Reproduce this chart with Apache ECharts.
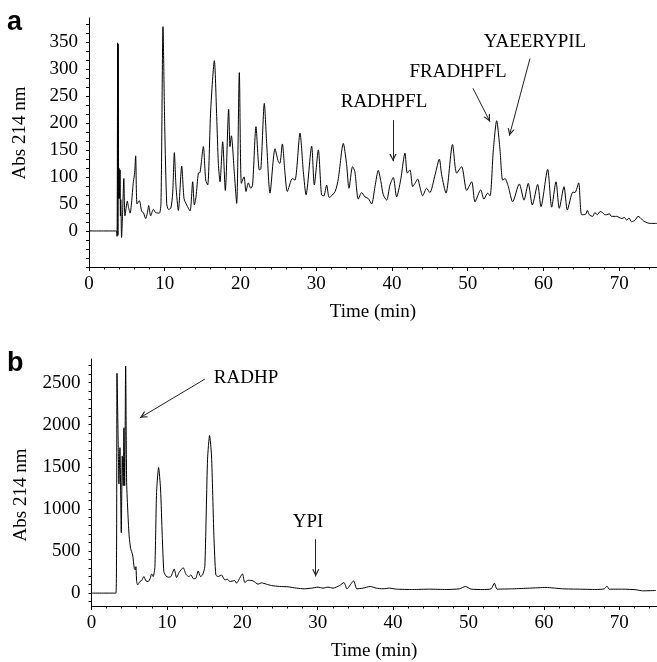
<!DOCTYPE html>
<html>
<head>
<meta charset="utf-8">
<script src="https://cdn.jsdelivr.net/npm/echarts@6/dist/echarts.min.js"></script>
<style>html,body{margin:0;padding:0;background:#fff}#c{width:657px;height:662px}</style>
</head>
<body>
<div id="c"></div>
<script>
// ---- Panel a: chromatogram (time min, Abs 214 nm) ----
const seriesA = [[0,0],[3.6,0],[3.7,-10],[3.78,348],[3.82,-8],[3.86,346],[3.92,60],[3.97,116],[4.05,60],[4.1,113],[4.15,28],[4.2,58],[4.3,-12],[4.45,40],[4.6,97],[4.75,28],[5.06,55],[5.2,45],[5.42,33],[5.86,91],[6.03,108],[6.16,139],[6.34,50],[6.65,56],[6.96,36],[7.18,34],[7.48,23],[7.7,33],[7.88,47],[8.14,28],[8.5,40],[8.8,34],[9.29,33],[9.51,54],[9.77,378],[10.0,193],[10.26,51],[10.48,40],[10.8,42],[11.05,70],[11.27,145],[11.49,82],[11.8,38],[12.24,120],[12.55,60],[12.9,48],[13.34,37],[13.69,91],[13.91,48],[14.13,63],[14.44,107],[14.66,108],[15.1,156],[15.41,94],[15.67,85],[16.07,224],[16.55,315],[16.86,212],[17.08,125],[17.3,91],[17.65,165],[18.0,75],[18.44,225],[18.62,156],[18.8,176],[19.19,107],[19.5,51],[19.85,293],[20.12,88],[20.47,100],[20.73,73],[21.04,89],[21.35,79],[21.6,85],[22.05,193],[22.49,113],[22.7,115],[23.15,236],[23.46,162],[23.9,70],[24.56,152],[25.0,128],[25.2,125],[25.53,161],[25.88,107],[26.19,73],[26.85,97],[27.2,94],[27.86,181],[28.3,110],[28.66,67],[29.4,157],[29.75,85],[30.28,150],[30.7,67],[31.0,65],[31.38,85],[31.73,62],[32.5,73],[32.92,97],[33.58,162],[34.0,125],[34.33,79],[34.8,119],[35.1,110],[35.56,59],[36.0,71],[36.44,63],[36.88,60],[37.32,50],[37.76,82],[38.2,112],[38.55,91],[38.86,67],[39.3,57],[39.74,85],[40.18,99],[40.62,63],[41.15,94],[41.72,144],[42.03,107],[42.38,113],[42.74,82],[43.04,88],[43.4,96],[43.7,81],[44.06,65],[44.58,79],[45.0,71],[45.7,104],[46.26,133],[46.56,104],[47.14,70],[48.0,160],[48.55,107],[49.2,119],[49.87,75],[50.53,91],[50.97,54],[51.72,76],[52.15,59],[52.64,70],[52.95,65],[53.39,150],[53.83,204],[54.27,150],[54.62,94],[54.93,97],[55.37,82],[55.94,54],[56.82,87],[57.44,57],[58.0,88],[58.54,48],[59.24,86],[59.68,45],[60.56,114],[61.09,44],[61.66,91],[62.1,42],[62.72,82],[63.16,39],[63.9,72],[64.17,71],[64.65,89],[65.05,30],[65.58,31],[65.8,38],[66.06,30],[66.5,27],[66.8,34],[67.12,30],[67.5,36],[67.82,34],[68.1,30],[68.35,30],[68.7,32],[69.0,27],[69.67,27],[70.0,25],[70.33,23],[70.7,25],[71.0,20],[71.3,24],[71.65,17],[72.1,20],[72.5,27],[72.75,25],[73.1,20],[73.4,17],[74.07,14],[75,14]];

// ---- Panel b ----
const seriesB = [[0,0],[3.25,0],[3.38,2610],[3.55,1727],[3.64,1295],[3.77,1727],[3.95,718],[4.08,1629],[4.21,1276],[4.3,1963],[4.4,1276],[4.53,2697],[4.66,1315],[4.83,942],[5.0,667],[5.19,530],[5.46,452],[5.67,294],[5.8,275],[5.89,314],[5.99,137],[6.12,98],[6.42,137],[6.65,149],[6.95,196],[7.22,145],[7.53,137],[7.79,177],[7.97,228],[8.19,196],[8.41,314],[8.63,1197],[8.9,1492],[9.16,1236],[9.38,687],[9.6,255],[9.87,204],[10.17,189],[10.53,196],[10.97,287],[11.28,185],[11.63,247],[12.16,302],[12.52,224],[12.91,196],[13.18,216],[13.54,169],[13.84,177],[14.15,263],[14.46,196],[14.73,216],[15.03,314],[15.39,1590],[15.66,1872],[15.92,1629],[16.23,687],[16.49,216],[16.8,196],[17.24,216],[17.68,157],[18.04,165],[18.34,137],[19.0,149],[19.22,118],[20.02,228],[20.33,126],[20.77,153],[21.43,145],[22.09,106],[22.53,122],[23.2,106],[23.86,90],[24.96,79],[26.07,75],[27.17,59],[28.27,51],[29.16,59],[30.04,71],[30.7,59],[31.36,71],[32.03,59],[32.91,90],[33.48,126],[33.88,51],[34.76,145],[35.2,51],[36.0,59],[36.97,79],[37.77,59],[38.65,51],[39.53,59],[40.42,47],[42.62,43],[44.83,47],[47.04,43],[48.8,51],[49.6,79],[50.35,47],[51.9,43],[53.0,51],[53.44,118],[53.79,47],[55.87,51],[58.08,59],[60.28,67],[62.49,51],[64.7,47],[66.9,43],[68.01,51],[68.36,83],[68.67,47],[70.44,47],[72.2,40],[73.09,27],[74.85,31]];

// ---- Tick values / labels ----
const xMajorTicks = [0,10,20,30,40,50,60,70];
const xMinorTicks = [0,2,4,6,8,10,12,14,16,18,20,22,24,26,28,30,32,34,36,38,40,42,44,46,48,50,52,54,56,58,60,62,64,66,68,70,72,74];
const yTicksA = [-66.67,-50,-33.33,-16.67,0,16.67,33.33,50,66.67,83.33,100,116.67,133.33,150,166.67,183.33,200,216.67,233.33,250,266.67,283.33,300,316.67,333.33,350,366.67,383.33];
const yLabelsA = [0,50,100,150,200,250,300,350];
const yTicksB = [-100,0,100,200,300,400,500,600,700,800,900,1000,1100,1200,1300,1400,1500,1600,1700,1800,1900,2000,2100,2200,2300,2400,2500,2600,2700];
const yLabelsB = [0,500,1000,1500,2000,2500];

// ---- Annotations (arrow start/end in data units) ----
const arrowsA = [
  {from:[40.14,205], to:[40.14,129]},
  {from:[50.7,264], to:[52.95,202]},
  {from:[58.23,319], to:[55.5,176]}
];
const arrowsB = [
  {from:[15.03,2541], to:[6.42,2081]},
  {from:[29.74,640], to:[29.74,197]}
];

const SERIF = '"Liberation Serif","Times New Roman",serif';
const arrowHead = 'path://M0,0 L0.01,0 L0,0.01 Z M20,20 L19.99,20 L20,19.99 Z M10,10 L13.6,17.2 L12.3,17.2 L10,12.6 L7.7,17.2 L6.4,17.2 Z';

function xMain(grid, name){
  return {type:'value', gridIndex:grid, position:'bottom', min:0, max:75,
    axisLine:{show:true, onZero:false, lineStyle:{color:'#000', width:1}},
    axisTick:{show:true, customValues:xMajorTicks, length:4, lineStyle:{color:'#000'}},
    axisLabel:{show:true, customValues:xMajorTicks, color:'#000', fontFamily:SERIF, fontSize:19, margin:8,
      formatter:function(v){return String(v);}},
    splitLine:{show:false},
    name:name, nameLocation:'middle', nameGap:36,
    nameTextStyle:{color:'#000', fontFamily:SERIF, fontSize:19}};
}
function xMinor(grid){
  return {type:'value', gridIndex:grid, position:'bottom', offset:0, min:0, max:75,
    axisLine:{show:false, onZero:false},
    axisTick:{show:true, customValues:xMinorTicks, length:2.5, lineStyle:{color:'#000'}},
    axisLabel:{show:false}, splitLine:{show:false}};
}
function yAx(grid, mn, mx, ticks, labels){
  return {type:'value', gridIndex:grid, position:'left', min:mn, max:mx,
    axisLine:{show:true, onZero:false, lineStyle:{color:'#000', width:1}},
    axisTick:{show:true, customValues:ticks, length:3, lineStyle:{color:'#000'}},
    axisLabel:{show:true, customValues:labels, color:'#000', fontFamily:SERIF, fontSize:19, margin:11,
      formatter:function(v){return String(v);}},
    splitLine:{show:false}};
}
function arrowLines(arr){
  return {silent:true, animation:false, symbol:['none', arrowHead], symbolSize:20,
    itemStyle:{color:'#222'},
    lineStyle:{color:'#222', width:1, type:'solid'}, label:{show:false},
    emphasis:{disabled:true},
    data: arr.map(a => [{coord:a.from},{coord:a.to}])};
}

const chart = echarts.init(document.getElementById('c'), null, {renderer:'canvas'});
chart.setOption({
  backgroundColor:'#fff',
  animation:false,
  grid:[
    {left:89, top:18, width:568, height:249},
    {left:91.5, top:359, width:566, height:249}
  ],
  xAxis:[xMain(0,'Time (min)'), xMinor(0), xMain(1,'Time (min)'), xMinor(1)],
  yAxis:[yAx(0,-66.67,394,yTicksA,yLabelsA), yAx(1,-153,2780,yTicksB,yLabelsB)],
  series:[
    {type:'line', xAxisIndex:0, yAxisIndex:0, data:seriesA, showSymbol:false, symbol:'none', smooth:0.25,
     lineStyle:{color:'#000', width:1}, silent:true, markLine:arrowLines(arrowsA)},
    {type:'line', xAxisIndex:2, yAxisIndex:1, data:seriesB, showSymbol:false, symbol:'none', smooth:0.2,
     lineStyle:{color:'#000', width:1}, silent:true, markLine:arrowLines(arrowsB)}
  ],
  graphic:[
    {type:'text', left:7, top:9, style:{text:'a', font:'bold 27px "Liberation Sans", Arial, sans-serif', fill:'#000'}},
    {type:'text', left:7, top:350, style:{text:'b', font:'bold 27px "Liberation Sans", Arial, sans-serif', fill:'#000'}},
    {type:'text', x:20, y:133, rotation:Math.PI/2, style:{text:'Abs 214 nm', font:'19px '+SERIF, fill:'#000', align:'center', verticalAlign:'middle'}},
    {type:'text', x:21, y:495, rotation:Math.PI/2, style:{text:'Abs 214 nm', font:'19px '+SERIF, fill:'#000', align:'center', verticalAlign:'middle'}},
    {type:'text', x:384, y:102, style:{text:'RADHPFL', font:'19px '+SERIF, fill:'#000', align:'center', verticalAlign:'middle'}},
    {type:'text', x:458, y:72, style:{text:'FRADHPFL', font:'19px '+SERIF, fill:'#000', align:'center', verticalAlign:'middle'}},
    {type:'text', x:535, y:42, style:{text:'YAEERYPIL', font:'19px '+SERIF, fill:'#000', align:'center', verticalAlign:'middle'}},
    {type:'text', x:246, y:378, style:{text:'RADHP', font:'19px '+SERIF, fill:'#000', align:'center', verticalAlign:'middle'}},
    {type:'text', x:308, y:522, style:{text:'YPI', font:'19px '+SERIF, fill:'#000', align:'center', verticalAlign:'middle'}}
  ]
});
</script>
</body>
</html>
